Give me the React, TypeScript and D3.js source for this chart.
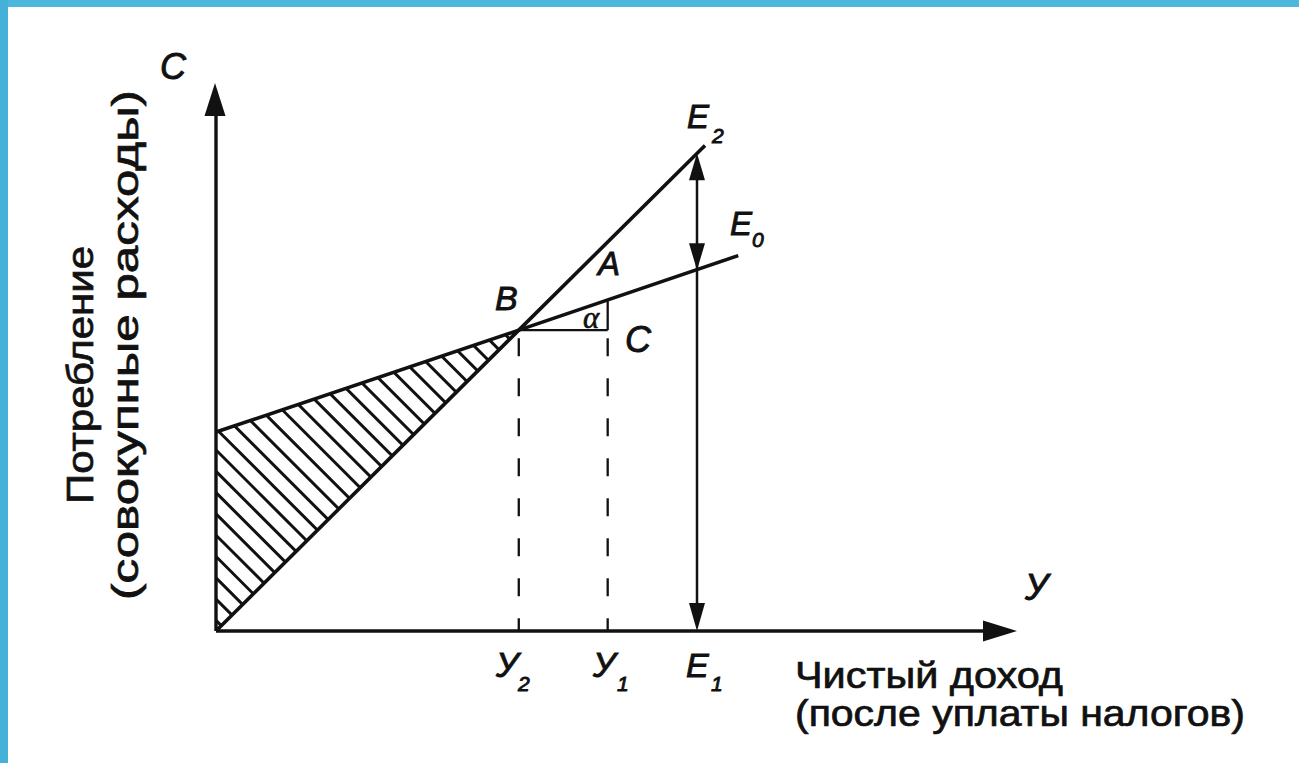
import React from 'react';
import * as d3 from 'd3';

// chart in data units: income on x, consumption on y (0..100 each)
const incomeB = 37.8;
const incomeY1 = 48.9;
const incomeE1 = 60.05;

const lineE2 = [
  { x: 0, y: 0 },
  { x: 37.8, y: 54.9 },
  { x: 61.05, y: 88.6 },
];
const lineE0 = [
  { x: 0, y: 36.3 },
  { x: 37.8, y: 54.9 },
  { x: 65.2, y: 68.5 },
];
const levelB = 54.9;
const levelY1OnE0 = 60.4;
const levelE0AtE1 = 65.85;
const levelE2AtE1 = 87.2;

const W = 1299;
const H = 763;

const x = d3.scaleLinear().domain([0, 100]).range([216, 1017]);
const y = d3.scaleLinear().domain([0, 100]).range([631, 83]);

const line = d3.line<{ x: number; y: number }>()
  .x(d => x(d.x))
  .y(d => y(d.y));

function arrowHead(tx: number, ty: number, dir: 'up' | 'down' | 'right', len: number, half: number) {
  if (dir === 'up') return `M${tx},${ty}L${tx - half},${ty + len}L${tx + half},${ty + len}Z`;
  if (dir === 'down') return `M${tx},${ty}L${tx - half},${ty - len}L${tx + half},${ty - len}Z`;
  return `M${tx},${ty}L${tx - len},${ty - half}L${tx - len},${ty + half}Z`;
}

const sans = '"Liberation Sans", Arial, sans-serif';

export default function App() {
  const x0 = x(0);
  const y0 = y(0);
  const triangle = [lineE0[0], lineE0[1], lineE2[0]];
  const hatchStarts = d3.range(-20, 10).map(k => 450 + 21.3 * k);
  const italic = { fontFamily: sans, fontStyle: 'italic', fill: '#111', stroke: '#111', strokeWidth: 0.9 } as const;
  const plain = { fontFamily: sans, fill: '#111', stroke: '#111', strokeWidth: 0.7 } as const;

  return (
    <div style={{ position: 'fixed', left: 0, top: 0, width: W, height: H, background: '#fff' }}>
      <svg width={W} height={H} style={{ display: 'block' }}>
        <rect x={0} y={0} width={W} height={H} fill="#fff" />
        <rect x={0} y={0} width={W} height={7} fill="#4db8dc" />
        <rect x={0} y={0} width={8} height={H} fill="#45b0d8" />

        <defs>
          <clipPath id="hatchClip">
            <path d={line(triangle) + 'Z'} />
          </clipPath>
        </defs>

        {/* hatched area */}
        <g clipPath="url(#hatchClip)" stroke="#111" strokeWidth={3}>
          {hatchStarts.map((s, i) => (
            <line key={i} x1={x0} y1={s} x2={x0 + 400} y2={s + 400} />
          ))}
        </g>

        {/* axes */}
        <g stroke="#111" strokeWidth={3.4} fill="none">
          <line x1={x0} y1={y0} x2={x0} y2={y(100) + 20} />
          <line x1={x0} y1={y0} x2={x(100) - 20} y2={y0} />
        </g>
        <path d={arrowHead(x0 - 1, y(100), 'up', 33, 10.5)} fill="#111" />
        <path d={arrowHead(x(100), y0, 'right', 34, 10.5)} fill="#111" />

        {/* consumption lines */}
        <path d={line(lineE2) ?? ''} stroke="#111" strokeWidth={3.6} fill="none" />
        <path d={line(lineE0) ?? ''} stroke="#111" strokeWidth={3.6} fill="none" />

        {/* guides */}
        <g stroke="#111" strokeWidth={2.3} fill="none">
          <line x1={x(incomeB)} y1={y(levelB)} x2={x(incomeY1)} y2={y(levelB)} />
          <line x1={x(incomeY1)} y1={y(levelY1OnE0)} x2={x(incomeY1)} y2={y(levelB)} />
          <line x1={x(incomeB)} y1={y(levelB) + 8} x2={x(incomeB)} y2={y0} strokeDasharray="18,22" />
          <line x1={x(incomeY1)} y1={y(levelB) + 8} x2={x(incomeY1)} y2={y0} strokeDasharray="18,22" />
        </g>

        {/* E1 vertical with arrows */}
        <line x1={x(incomeE1)} y1={y(levelE2AtE1) + 10} x2={x(incomeE1)} y2={y0 - 10} stroke="#111" strokeWidth={2.5} />
        <path d={arrowHead(x(incomeE1), y(levelE2AtE1), 'up', 27, 8)} fill="#111" />
        <path d={arrowHead(x(incomeE1), y(levelE0AtE1), 'down', 27, 8)} fill="#111" />
        <path d={arrowHead(x(incomeE1), y0, 'down', 28, 8)} fill="#111" />

        {/* point labels */}
        <text x={160} y={79} fontSize={36} {...italic}>C</text>
        <text x={687} y={128} fontSize={33} {...italic}>E</text>
        <text x={712} y={143} fontSize={21} {...italic}>2</text>
        <text x={730} y={235} fontSize={33} {...italic}>E</text>
        <text x={752} y={247} fontSize={21} {...italic}>0</text>
        <text x={598} y={275} fontSize={33} {...italic}>A</text>
        <text x={495} y={310} fontSize={34} {...italic}>B</text>
        <text x={583} y={328} fontSize={31} fontFamily='"Liberation Serif", serif' fontStyle="italic" fill="#111" stroke="#111" strokeWidth={0.6}>α</text>
        <text x={625} y={352} fontSize={36} {...italic}>C</text>
        <text x={1025} y={600} fontSize={36} {...italic}>У</text>

        {/* axis tick labels */}
        <text x={496} y={677} fontSize={35} {...italic}>У</text>
        <text x={518} y={691} fontSize={21} {...italic}>2</text>
        <text x={593} y={677} fontSize={35} {...italic}>У</text>
        <text x={617} y={691} fontSize={21} {...italic}>1</text>
        <text x={686} y={677} fontSize={34} {...italic}>E</text>
        <text x={711} y={691} fontSize={21} {...italic}>1</text>

        {/* axis titles */}
        <text x={795} y={688} fontSize={36} {...plain} textLength={268} lengthAdjust="spacingAndGlyphs">Чистый доход</text>
        <text x={795} y={726} fontSize={36} {...plain} textLength={450} lengthAdjust="spacingAndGlyphs">(после уплаты налогов)</text>

        <g transform="translate(93,375) rotate(-90)">
          <text x={0} y={0} fontSize={36} {...plain} textAnchor="middle" textLength={258} lengthAdjust="spacingAndGlyphs">Потребление</text>
        </g>
        <g transform="translate(138,345) rotate(-90)">
          <text x={0} y={0} fontSize={36} {...plain} textAnchor="middle" textLength={510} lengthAdjust="spacingAndGlyphs">(совокупные расходы)</text>
        </g>
      </svg>
    </div>
  );
}
